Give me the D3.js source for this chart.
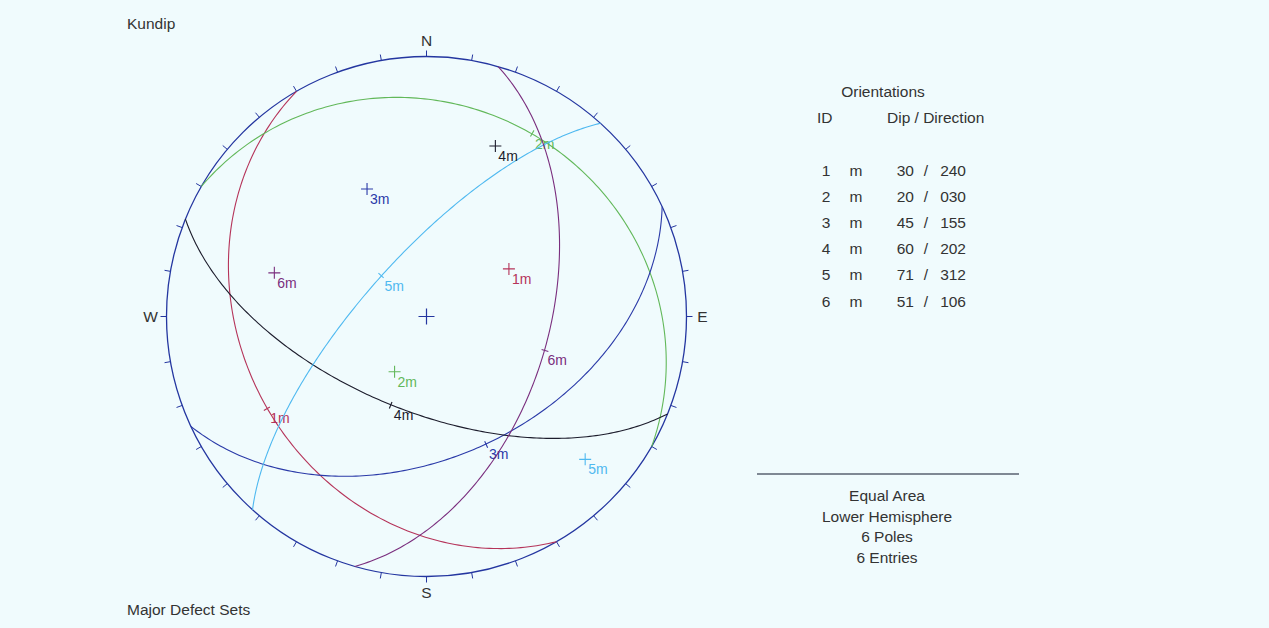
<!DOCTYPE html>
<html>
<head>
<meta charset="utf-8">
<script src="https://cdn.jsdelivr.net/npm/d3@7"></script>
<style>
  html, body { margin: 0; padding: 0; background: #f0fbfd; }
  svg { display: block; }
  text { font-family: "Liberation Sans", Arial, sans-serif; fill: #333; }
</style>
</head>
<body>
<svg id="chart" width="1269" height="628"></svg>
<script>
// Discontinuity sets: dip and dip direction (degrees)
const setIds = ["1", "2", "3", "4", "5", "6"];
const setTypes = ["m", "m", "m", "m", "m", "m"];
const dips = [30, 20, 45, 60, 71, 51];
const dipDirections = [240, 30, 155, 202, 312, 106];
const setColors = ["#b5345a", "#62b85a", "#2a3aa8", "#1c1c2c", "#4fb9f0", "#7a2e7e"];
const cardinalLabels = ["N", "E", "S", "W"];
const infoLines = ["Equal Area", "Lower Hemisphere", "6 Poles", "6 Entries"];

const svg = d3.select("#chart");
const W = 1269, H = 628;
svg.append("rect").attr("width", W).attr("height", H).attr("fill", "#f0fbfd");

// Net geometry
const cx = 426.5, cy = 316.5, R = 260;
const xScale = d3.scaleLinear().domain([-1, 1]).range([cx - R, cx + R]);
const yScale = d3.scaleLinear().domain([-1, 1]).range([cy + R, cy - R]);
const rad = d => d * Math.PI / 180;

// Equal-area (Schmidt) projection, lower hemisphere: trend/plunge -> unit disk
function project(trend, plunge) {
  const r = Math.SQRT2 * Math.sin(rad(90 - plunge) / 2);
  return [r * Math.sin(rad(trend)), r * Math.cos(rad(trend))];
}

// Points along the great circle of a plane
function greatCircle(dip, dipDir) {
  const s = [Math.sin(rad(dipDir - 90)), Math.cos(rad(dipDir - 90)), 0];
  const d = [Math.cos(rad(dip)) * Math.sin(rad(dipDir)), Math.cos(rad(dip)) * Math.cos(rad(dipDir)), Math.sin(rad(dip))];
  const pts = [];
  for (let i = 0; i <= 180; i++) {
    const t = rad(i);
    const v = [0, 1, 2].map(k => Math.cos(t) * s[k] + Math.sin(t) * d[k]);
    const down = Math.max(-1, Math.min(1, v[2]));
    const plunge = Math.asin(Math.max(0, down)) * 180 / Math.PI;
    const trend = Math.atan2(v[0], v[1]) * 180 / Math.PI;
    pts.push(project(trend, plunge));
  }
  return pts;
}

const line = d3.line().x(p => xScale(p[0])).y(p => yScale(p[1]));

// Primitive circle
const primColor = "#2436a0";
svg.append("circle").attr("cx", xScale(0)).attr("cy", yScale(0)).attr("r", R)
  .attr("fill", "none").attr("stroke", primColor).attr("stroke-width", 1.3);

// Ticks every 10 degrees, outward
const tickAz = d3.range(0, 360, 10);
svg.append("g").selectAll("line").data(tickAz).join("line")
  .attr("x1", a => xScale(Math.sin(rad(a))))
  .attr("y1", a => yScale(Math.cos(rad(a))))
  .attr("x2", a => xScale(Math.sin(rad(a)) * (R + 6) / R))
  .attr("y2", a => yScale(Math.cos(rad(a)) * (R + 6) / R))
  .attr("stroke", primColor).attr("stroke-width", 1);

// Cardinal labels
svg.append("g").selectAll("text").data(cardinalLabels).join("text")
  .attr("x", (c, i) => xScale(Math.sin(rad(i * 90)) * (R + 16) / R))
  .attr("y", (c, i) => yScale(Math.cos(rad(i * 90)) * (R + 16) / R))
  .attr("text-anchor", "middle").attr("dominant-baseline", "central")
  .attr("font-size", 15.5).text(c => c);

// Centre cross
svg.append("path")
  .attr("d", `M${xScale(0) - 8},${yScale(0)}H${xScale(0) + 8}M${xScale(0)},${yScale(0) - 8}V${yScale(0) + 8}`)
  .attr("stroke", primColor).attr("stroke-width", 1.2);

// Great circles, dip-vector ticks and labels
setIds.forEach((id, i) => {
  const col = setColors[i];
  svg.append("path").attr("d", line(greatCircle(dips[i], dipDirections[i])))
    .attr("fill", "none").attr("stroke", col).attr("stroke-width", 1.1);
  const dp = project(dipDirections[i], dips[i]);
  const px = xScale(dp[0]), py = yScale(dp[1]);
  const ux = Math.sin(rad(dipDirections[i])), uy = -Math.cos(rad(dipDirections[i]));
  svg.append("line")
    .attr("x1", px - ux * 3).attr("y1", py - uy * 3)
    .attr("x2", px + ux * 4).attr("y2", py + uy * 4)
    .attr("stroke", col).attr("stroke-width", 1.1);
  svg.append("text").attr("x", px + 3).attr("y", py + 15)
    .attr("font-size", 14).style("fill", col).text(id + setTypes[i]);
});

// Poles
setIds.forEach((id, i) => {
  const col = setColors[i];
  const pp = project(dipDirections[i] + 180, 90 - dips[i]);
  const px = xScale(pp[0]), py = yScale(pp[1]);
  svg.append("path").attr("d", `M${px - 6},${py}H${px + 6}M${px},${py - 6}V${py + 6}`)
    .attr("stroke", col).attr("stroke-width", 1.1);
  svg.append("text").attr("x", px + 3).attr("y", py + 15)
    .attr("font-size", 14).style("fill", col).text(id + setTypes[i]);
});

// Titles
svg.append("text").attr("x", 127).attr("y", 29).attr("font-size", 15.5).text("Kundip");
svg.append("text").attr("x", 127).attr("y", 615).attr("font-size", 15.5).text("Major Defect Sets");

// Orientation table
const tbl = svg.append("g").attr("font-size", 15.5);
tbl.append("text").attr("x", 883).attr("y", 97).attr("text-anchor", "middle").text("Orientations");
tbl.append("text").attr("x", 817).attr("y", 123).text("ID");
tbl.append("text").attr("x", 887).attr("y", 123).text("Dip / Direction");
const rowY = d3.scaleLinear().domain([0, 5]).range([175.5, 306.5]);
setIds.forEach((id, i) => {
  const y = rowY(i);
  tbl.append("text").attr("x", 826).attr("y", y).attr("text-anchor", "middle").text(id);
  tbl.append("text").attr("x", 856).attr("y", y).attr("text-anchor", "middle").text(setTypes[i]);
  tbl.append("text").attr("x", 914).attr("y", y).attr("text-anchor", "end").text(String(dips[i]).padStart(2, "0"));
  tbl.append("text").attr("x", 926).attr("y", y).attr("text-anchor", "middle").text("/");
  tbl.append("text").attr("x", 966).attr("y", y).attr("text-anchor", "end").text(String(dipDirections[i]).padStart(3, "0"));
});

// Projection summary
svg.append("line").attr("x1", 757).attr("x2", 1019).attr("y1", 474).attr("y2", 474)
  .attr("stroke", "#5a6270").attr("stroke-width", 1.3);
svg.append("g").selectAll("text").data(infoLines).join("text")
  .attr("x", 887).attr("y", (d, i) => 501 + i * 20.7)
  .attr("text-anchor", "middle").attr("font-size", 15.5).text(d => d);
</script>
</body>
</html>
